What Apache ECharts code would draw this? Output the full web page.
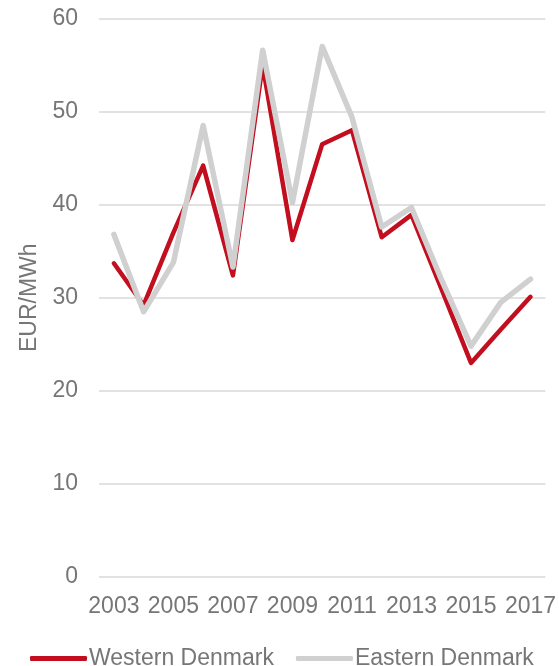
<!DOCTYPE html>
<html>
<head>
<meta charset="utf-8">
<script src="https://cdn.jsdelivr.net/npm/echarts@6/dist/echarts.min.js"></script>
<style>
html,body{margin:0;padding:0;background:#fff;}
#chart{width:559px;height:666px;}
</style>
</head>
<body>
<div id="chart"></div>
<script>
var years = ['2003','2004','2005','2006','2007','2008','2009','2010','2011','2012','2013','2014','2015','2016','2017'];
var western = [33.7, 29.2, 37.0, 44.2, 32.4, 55.0, 36.2, 46.5, 48.0, 36.5, 38.9, 31.0, 23.0, 26.6, 30.1];
var eastern = [36.8, 28.5, 33.8, 48.5, 33.3, 56.6, 40.2, 57.0, 49.4, 37.6, 39.7, 32.0, 24.8, 29.5, 32.0];
var yTicks = [0, 10, 20, 30, 40, 50, 60];

var font = '"Liberation Sans", Arial, sans-serif';
var textColor = '#767676';

var chart = echarts.init(document.getElementById('chart'), null, {renderer: 'canvas'});
chart.setOption({
  animation: false,
  grid: {left: 99, right: 11, top: 18.5, bottom: 89, containLabel: false},
  legend: {
    left: 25,
    top: 642,
    itemWidth: 57,
    itemHeight: 5,
    itemGap: 22,
    icon: 'roundRect',
    textStyle: {fontFamily: font, fontSize: 23, color: textColor, padding: [0, 0, 0, -3]},
    data: ['Western Denmark', 'Eastern Denmark']
  },
  xAxis: {
    type: 'category',
    data: years,
    boundaryGap: true,
    axisLine: {show: false},
    axisTick: {show: false},
    axisLabel: {interval: 1, fontFamily: font, fontSize: 23, color: textColor, margin: 18}
  },
  yAxis: {
    type: 'value',
    min: yTicks[0],
    max: yTicks[yTicks.length - 1],
    interval: 10,
    name: 'EUR/MWh',
    nameLocation: 'middle',
    nameGap: 58,
    nameTextStyle: {fontFamily: font, fontSize: 23, color: textColor},
    axisLine: {show: false},
    axisTick: {show: false},
    axisLabel: {fontFamily: font, fontSize: 23, color: textColor, margin: 21},
    splitLine: {lineStyle: {color: '#D9D9D9', width: 1.5}}
  },
  series: [
    {
      name: 'Western Denmark',
      type: 'line',
      data: western,
      symbol: 'none',
      itemStyle: {color: '#C20E1F'},
      lineStyle: {color: '#C20E1F', width: 4.5, join: 'round', cap: 'round'}
    },
    {
      name: 'Eastern Denmark',
      type: 'line',
      data: eastern,
      symbol: 'none',
      itemStyle: {color: '#D0D0D0'},
      lineStyle: {color: '#D0D0D0', width: 5.5, join: 'round', cap: 'round'}
    }
  ]
});
</script>
</body>
</html>
